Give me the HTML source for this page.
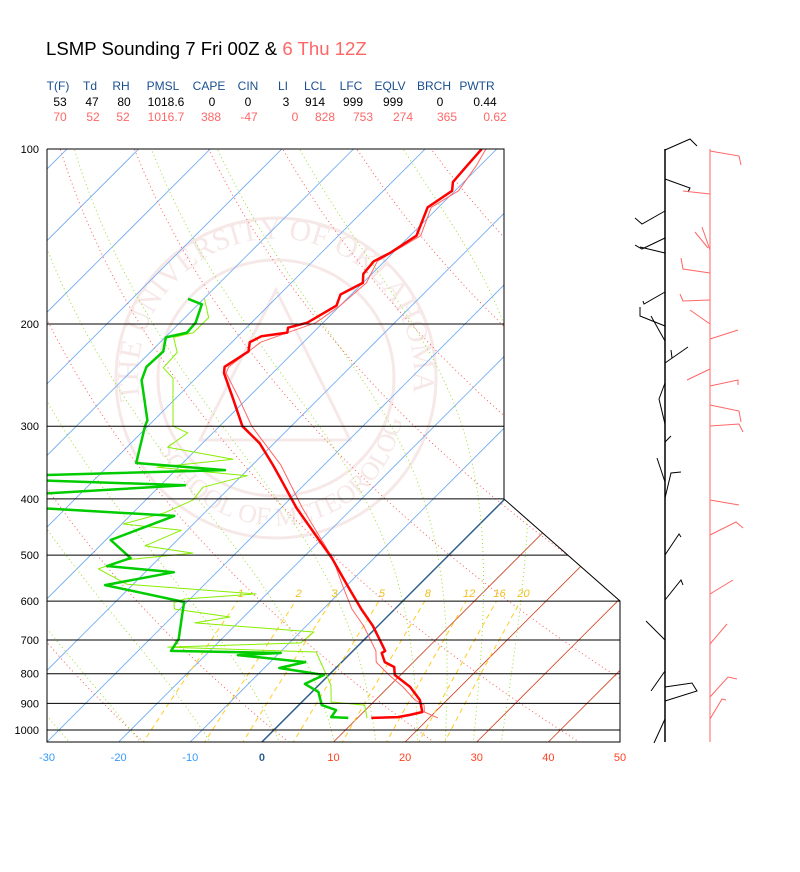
<!DOCTYPE html>
<html><head><meta charset="utf-8">
<style>
html,body{margin:0;padding:0;background:#fff;}
body{width:800px;height:872px;overflow:hidden;position:relative;font-family:"Liberation Sans",sans-serif;}
.hd{position:absolute;font-size:12px;white-space:nowrap;transform:translateX(-50%);}
</style></head>
<body>
<div style="position:absolute;left:46px;top:38px;font-size:18.6px;color:#000;white-space:nowrap;">LSMP Sounding 7 Fri 00Z &amp; <span style="color:#ff6666">6 Thu 12Z</span></div>
<div id="params"></div>
<svg id="chart" width="800" height="872" style="position:absolute;left:0;top:0" xmlns="http://www.w3.org/2000/svg"></svg>
<script>
// ---- data ----
const hdrLabels=["T(F)","Td","RH","PMSL","CAPE","CIN","LI","LCL","LFC","EQLV","BRCH","PWTR"];
const hdrX=[58,90,121,163,209,248,283,315,351,390,434,477];
const val00X=[60,92,124,166,212,248,286,315,353,393,440,485];
const val12X=[60,93,123,166,211,249,295,325,363,403,447,495];
const vals00=["53","47","80","1018.6","0","0","3","914","999","999","0","0.44"];
const vals12=["70","52","52","1016.7","388","-47","0","828","753","274","365","0.62"];
const pressureTicks=[100,200,300,400,500,600,700,800,900,1000];
const tempTicks=[-30,-20,-10,0,10,20,30,40,50];
const mixRatios=[1,2,3,5,8,12,16,20];
const dryThetas=[-40,-20,0,20,40,60,80,100,120,140,160,180,200];
const moistThetas=[-30,-20,-10,0,8,14,20,24,28,32];
// 00Z temperature
const tempP00=[100,107,114,118,126,141,151,156,164,170,178,186,199,203,207,210,215,223,237,243,267,300,321,350,367,415,506,565,619,662,731,737,764,779,804,843,888,931,942,950,953];
const tempT00=[-52.1,-51.8,-51.5,-50.4,-51.5,-49.1,-50.4,-51.5,-51.2,-50.0,-51.5,-50.5,-52.2,-54.2,-53.6,-56.7,-57.5,-56.4,-57.6,-56.8,-52.3,-46.8,-42.0,-37.1,-34.5,-27.8,-15.9,-9.8,-4.7,-0.7,4.5,4.3,6.0,8.0,9.2,13.0,16.2,18.2,16.9,15.5,11.9];
// 00Z dewpoint
const dewP00=[181,185,199,207,211,223,237,250,293,300,347,357,365,371,379,394,413,428,471,506,522,535,563,602,631,697,731,737,743,764,782,804,833,860,906,924,950,953];
const dewT00=[-72.2,-69.5,-67.8,-67.6,-69.9,-68.3,-68.5,-67.3,-60.9,-60.4,-56.5,-43.1,-70.9,-70.3,-46.6,-68.3,-66.6,-43.8,-49.3,-44.0,-46.2,-36.0,-43.8,-30.4,-29.0,-26.0,-25.4,-9.8,-15.5,-5.1,-7.9,-0.7,-2.1,0.9,3.2,5.9,6.2,8.7];
// 12Z temperature
const tempP12=[100,107,118,126,141,156,170,186,199,215,237,243,267,300,350,415,506,565,619,662,731,764,804,843,888,906,931,953];
const tempT12=[-51.5,-50.5,-49.5,-51,-48.5,-51,-49.5,-50,-51,-56,-57,-56.5,-51.5,-45.5,-36,-27,-15.8,-10.5,-6,-2,3.2,4.8,8.4,12,15.5,17.5,18.5,21.2];
// 12Z dewpoint
const dewP12=[181,195,207,211,224,238,248,300,308,326,342,353,365,382,402,423,442,453,482,496,510,528,561,583,595,604,619,639,654,678,708,720,734,837,895,906,953];
const dewT12=[-69.9,-66.7,-66.7,-68.8,-66.2,-66.0,-63.2,-56.5,-53.5,-54.3,-43.5,-53.0,-39.2,-43.8,-43.4,-45.6,-49.8,-40.8,-43.7,-36.0,-44.8,-47.0,-40.9,-21.5,-30.8,-31.7,-30.8,-21.9,-26.0,-8.1,-8.4,-26.4,-5.0,1.7,4.1,9.2,11.3];

// ---- axes ----
const K=252.3;
function yOf(p){return 730-K*Math.log(1000/p);}
function xOf(T,p){return 47+(T+30)*7.1625+(742-yOf(p));}
const NS="http://www.w3.org/2000/svg";
const svg=document.getElementById('chart');
function mk(tag,attrs,parent){const e=document.createElementNS(NS,tag);for(const k in attrs)e.setAttribute(k,attrs[k]);(parent||svg).appendChild(e);return e;}
function pathFrom(ps,ts){let d='';for(let i=0;i<ps.length;i++){d+=(i?'L':'M')+xOf(ts[i],ps[i]).toFixed(1)+' '+yOf(ps[i]).toFixed(1);}return d;}

// header table
const params=document.getElementById('params');
function addCell(txt,x,y,color,name){const d=document.createElement('div');d.className='hd';d.style.left=x+'px';d.style.top=y+'px';d.style.color=color;d.textContent=txt;


params.appendChild(d);}
hdrLabels.forEach((t,i)=>addCell(t,hdrX[i],79,'#1a4f8f','param-header'));
vals00.forEach((t,i)=>addCell(t,val00X[i],95,'#000','param-value-00z'));
vals12.forEach((t,i)=>addCell(t,val12X[i],110,'#ff6666','param-value-12z'));

// clip region
const defs=mk('defs',{});
const cp=mk('clipPath',{id:'plotclip'},defs);
mk('polygon',{points:'47,149 504,149 504,499 620,601 620,742 47,742'},cp);
const cpl=mk('clipPath',{id:'lowclip'},defs);
mk('polygon',{points:'47,601 620,601 620,742 47,742'},cpl);

// watermark
const wm=mk('g',{opacity:'0.4'});


mk('circle',{cx:276,cy:378,r:160,fill:'none',stroke:'#ecc8c8','stroke-width':3},wm);
mk('circle',{cx:276,cy:378,r:118,fill:'none',stroke:'#ecc8c8','stroke-width':3},wm);
mk('path',{id:'sealarc',d:'M 140 400 A 138 138 0 1 1 412 400',fill:'none'},defs);
mk('path',{id:'sealarc2',d:'M 150 420 A 128 128 0 0 0 402 420',fill:'none'},defs);
const st=mk('text',{'font-family':'Liberation Serif, serif','font-size':30,fill:'#ecc8c8'},wm);
const tp=mk('textPath',{href:'#sealarc'},st);tp.textContent='THE UNIVERSITY OF OKLAHOMA';
const st2=mk('text',{'font-family':'Liberation Serif, serif','font-size':26,fill:'#ecc8c8'},wm);
const tp2=mk('textPath',{href:'#sealarc2',startOffset:'8%'},st2);tp2.textContent='SCHOOL OF METEOROLOGY';
mk('path',{d:'M276 290 L350 440 L200 440 Z',fill:'none',stroke:'#ecc8c8','stroke-width':3},wm);

const bg=mk('g',{'clip-path':'url(#plotclip)'});


// isotherms
for(let T=-110;T<=50;T+=10){
  const col=T<0?'#6aa8f0':(T===0?'#2f5f8f':'#cc4422');
  const l=mk('line',{x1:xOf(T,1060),y1:yOf(1060),x2:xOf(T,95),y2:yOf(95),stroke:col,'stroke-width':T===0?1.5:0.8},bg);
  
  
}
// dry adiabats
dryThetas.forEach(th=>{const ps=[],ts=[];for(let p=1060;p>=95;p-=10){ps.push(p);ts.push((th+273.15)*Math.pow(p/1000,0.2857)-273.15);}
  const e=mk('path',{d:pathFrom(ps,ts),fill:'none',stroke:'#ff5c5c','stroke-width':1,'stroke-dasharray':'1,3'},bg);
  
  });
// moist adiabats
function es(T){return 6.112*Math.exp(17.67*T/(T+243.5));}
function dTdp(T,p){const Tk=T+273.15,e=es(T),rs=0.622*e/(p-e),Rd=287,cp=1005,Lv=2.5e6;return (Rd*Tk+Lv*rs)/(p*(cp+Lv*Lv*rs*0.622/(Rd*Tk*Tk)));}
moistThetas.forEach(th=>{const ps=[],ts=[];
  let Td=th,lowP=[],lowT=[];for(let p=1000;p<1060;p+=5){lowP.push(p);lowT.push(Td);Td+=dTdp(Td,p)*5;}
  lowP.reverse();lowT.reverse();
  for(let i=0;i<lowP.length;i++){ps.push(lowP[i]);ts.push(lowT[i]);}
  let T=th;for(let p=1000;p>=100;p-=5){T-=dTdp(T,p)*5;ps.push(p-5);ts.push(T);}
  const e=mk('path',{d:pathFrom(ps,ts),fill:'none',stroke:'#99e033','stroke-width':1,'stroke-dasharray':'1,3'},bg);
  
  });
// mixing ratio lines
const mg=mk('g',{'clip-path':'url(#lowclip)'});
mixRatios.forEach(w=>{const ps=[],ts=[];for(let p=1060;p>=600;p-=20){const e=w*p/(622+w),L=Math.log(e/6.112);ps.push(p);ts.push(243.5*L/(17.67-L));}
  const e=mk('path',{d:pathFrom(ps,ts),fill:'none',stroke:'#ffcc22','stroke-width':1,'stroke-dasharray':'5,4'},mg);
  
  
  const t=mk('text',{x:xOf(ts[ts.length-1],600)+3,y:597,'font-size':11,'font-style':'italic',fill:'#f0c020','text-anchor':'middle'});
  
  
  t.textContent=String(w);});

// traces
const tr=mk('g',{'clip-path':'url(#plotclip)',fill:'none','stroke-linejoin':'round'});
function trace(ps,ts,col,w,name){const e=mk('path',{d:pathFrom(ps,ts),stroke:col,'stroke-width':w},tr);
  
  }
trace(tempP12,tempT12,'#ff6666',1,'temperature-12z-line');
trace(dewP12,dewT12,'#88ee00',1,'dewpoint-12z-line');
trace(tempP00,tempT00,'#ff0000',2.5,'temperature-00z-line');
trace(dewP00,dewT00,'#00cc00',2.5,'dewpoint-00z-line');

// frame and isobars
const fr=mk('g',{stroke:'#000','stroke-width':1,fill:'none'});


mk('polyline',{points:'47,149 504,149 504,499 620,601 620,742 47,742 47,149'},fr);
function rightEdge(y){if(y<=499)return 504;if(y>=601)return 620;return 504+116*(y-499)/102;}
pressureTicks.forEach(p=>{const y=yOf(p);
  const l=mk('line',{x1:47,y1:y,x2:rightEdge(y),y2:y,stroke:'#000'});
  
  
  const t=mk('text',{x:39,y:y+4,'font-size':11,'text-anchor':'end',fill:'#000'});
  
  
  t.textContent=String(p);});
tempTicks.forEach(T=>{const x=47+(T+30)*7.1625;
  const col=T<0?'#3399ff':(T===0?'#2f5f8f':'#ff4020');
  const t=mk('text',{x:x,y:761,'font-size':11,'text-anchor':'middle',fill:col,'font-weight':T===0?'bold':'normal'});
  
  
  t.textContent=String(T);});

// wind barb panels
const wb=mk('g',{fill:'none','stroke-width':1});


mk('line',{x1:665,y1:149,x2:665,y2:742,stroke:'#000','stroke-width':1.5},wb);
mk('line',{x1:710,y1:149,x2:710,y2:742,stroke:'#ff6666'},wb);
const blackBarbs=["665,150 690,139 697,146","665,179 690,188 688,192","665,211 642,224 635,218","665,238 642,249 635,245","665,253 640,247","665,292 644,304 643,301","665,326 640,316 640,307","665,341 651,316","665,363 688,347","671,350 672,358","665,383 659,399 665,424","665,442 671,436","665,482 657,458","665,498 671,473 681,472","665,555 679,534 681,537","665,600 681,580 683,585","665,640 646,621","665,671 651,691","665,687 692,683 697,691 665,701","665,719 654,743"];
const redBarbs=["710,151 739,156 741,165","710,194 683,191","710,250 702,227","695,232 708,248","710,273 683,269 681,258","710,300 683,301 680,294","710,324 690,310","710,339 738,330","710,369 687,380","710,386 738,380 738,385","710,405 739,411 741,422","710,426 739,424 743,432","710,500 739,505","710,535 736,522 743,528","710,594 733,580","710,644 727,624","710,697 728,677 737,679","710,719 722,699 726,700"];
blackBarbs.forEach(pts=>{const e=mk('polyline',{points:pts,stroke:'#000'},wb);
  
  });
redBarbs.forEach(pts=>{const e=mk('polyline',{points:pts,stroke:'#ff6666'},wb);
  
  });
</script>
</body></html>
